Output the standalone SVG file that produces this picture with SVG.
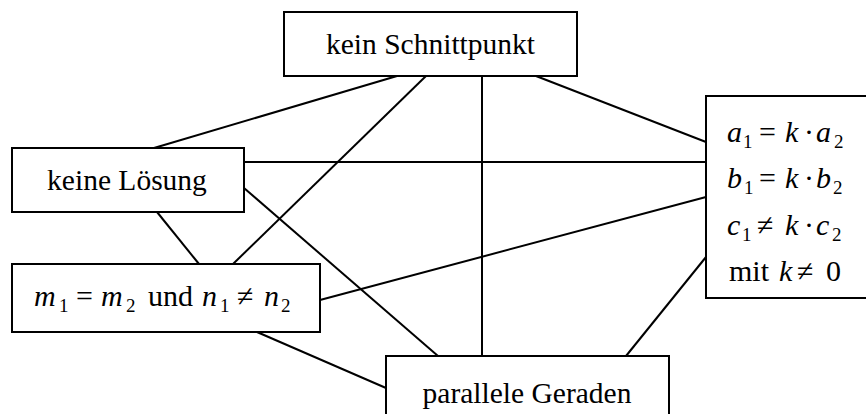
<svg xmlns="http://www.w3.org/2000/svg" width="866" height="414" viewBox="0 0 866 414">
  <style>
    .box { fill: #fff; stroke: #000; stroke-width: 2; }
    .edge { stroke: #000; stroke-width: 2; fill: none; }
    .t { font-family: "Liberation Serif", "Times New Roman", serif; font-size: 29.5px; fill: #000; }
    .m { font-family: "Liberation Serif", "Times New Roman", serif; font-size: 30px; fill: #000; }
    .i { font-style: italic; }
    .s { font-size: 19px; }
  </style>
  <rect width="866" height="414" fill="#fff"/>

  <!-- connectors -->
  <g id="connectors">
    <line class="edge" x1="397" y1="76" x2="154" y2="148"/>
    <line class="edge" x1="426" y1="76" x2="233" y2="264"/>
    <line class="edge" x1="482" y1="76" x2="482" y2="356"/>
    <line class="edge" x1="536" y1="76" x2="706" y2="142"/>
    <line class="edge" x1="244" y1="162" x2="706" y2="162"/>
    <line class="edge" x1="244" y1="188" x2="438" y2="356"/>
    <line class="edge" x1="157" y1="212" x2="199" y2="264"/>
    <line class="edge" x1="320" y1="300" x2="706" y2="197"/>
    <line class="edge" x1="257" y1="332" x2="386" y2="388"/>
    <line class="edge" x1="706" y1="257" x2="626" y2="356"/>
  </g>

  <g id="kein-schnittpunkt">
    <rect class="box" x="284" y="12" width="293" height="64"/>
    <text class="t" x="430.5" y="54" text-anchor="middle">kein Schnittpunkt</text>
  </g>

  <g id="keine-loesung">
    <rect class="box" x="12" y="148" width="232" height="64"/>
    <text class="t" x="127" y="190" text-anchor="middle">keine Lösung</text>
  </g>

  <g id="steigung">
    <rect class="box" x="12" y="264" width="308" height="68"/>
    <text class="m" y="306">
      <tspan class="i" x="34">m</tspan><tspan class="s" x="59" dy="6">1</tspan><tspan x="76" dy="-6">=</tspan><tspan class="i" x="101">m</tspan><tspan class="s" x="126" dy="6">2</tspan><tspan x="148" dy="-6">und</tspan><tspan class="i" x="202">n</tspan><tspan class="s" x="220" dy="6">1</tspan><tspan x="237" dy="-6">≠</tspan><tspan class="i" x="264">n</tspan><tspan class="s" x="281" dy="6">2</tspan>
    </text>
  </g>

  <g id="koeffizienten">
    <rect class="box" x="706" y="96" width="170" height="202"/>
    <text class="m" y="142">
      <tspan class="i" x="727">a</tspan><tspan class="s" x="743" dy="6">1</tspan><tspan x="759" dy="-6">=</tspan><tspan class="i" x="785">k</tspan><tspan x="804">·</tspan><tspan class="i" x="816">a</tspan><tspan class="s" x="834" dy="6">2</tspan>
    </text>
    <text class="m" y="188">
      <tspan class="i" x="727">b</tspan><tspan class="s" x="744" dy="6">1</tspan><tspan x="759" dy="-6">=</tspan><tspan class="i" x="785">k</tspan><tspan x="804">·</tspan><tspan class="i" x="816">b</tspan><tspan class="s" x="833" dy="6">2</tspan>
    </text>
    <text class="m" y="235">
      <tspan class="i" x="727">c</tspan><tspan class="s" x="742" dy="6">1</tspan><tspan x="757" dy="-6">≠</tspan><tspan class="i" x="785">k</tspan><tspan x="804">·</tspan><tspan class="i" x="816">c</tspan><tspan class="s" x="832" dy="6">2</tspan>
    </text>
    <text class="m" y="281">
      <tspan x="729">mit</tspan><tspan class="i" x="779">k</tspan><tspan x="797">≠</tspan><tspan x="826">0</tspan>
    </text>
  </g>

  <g id="parallele-geraden">
    <rect class="box" x="386" y="356" width="283" height="70"/>
    <text class="t" x="527" y="403" text-anchor="middle">parallele Geraden</text>
  </g>
</svg>
